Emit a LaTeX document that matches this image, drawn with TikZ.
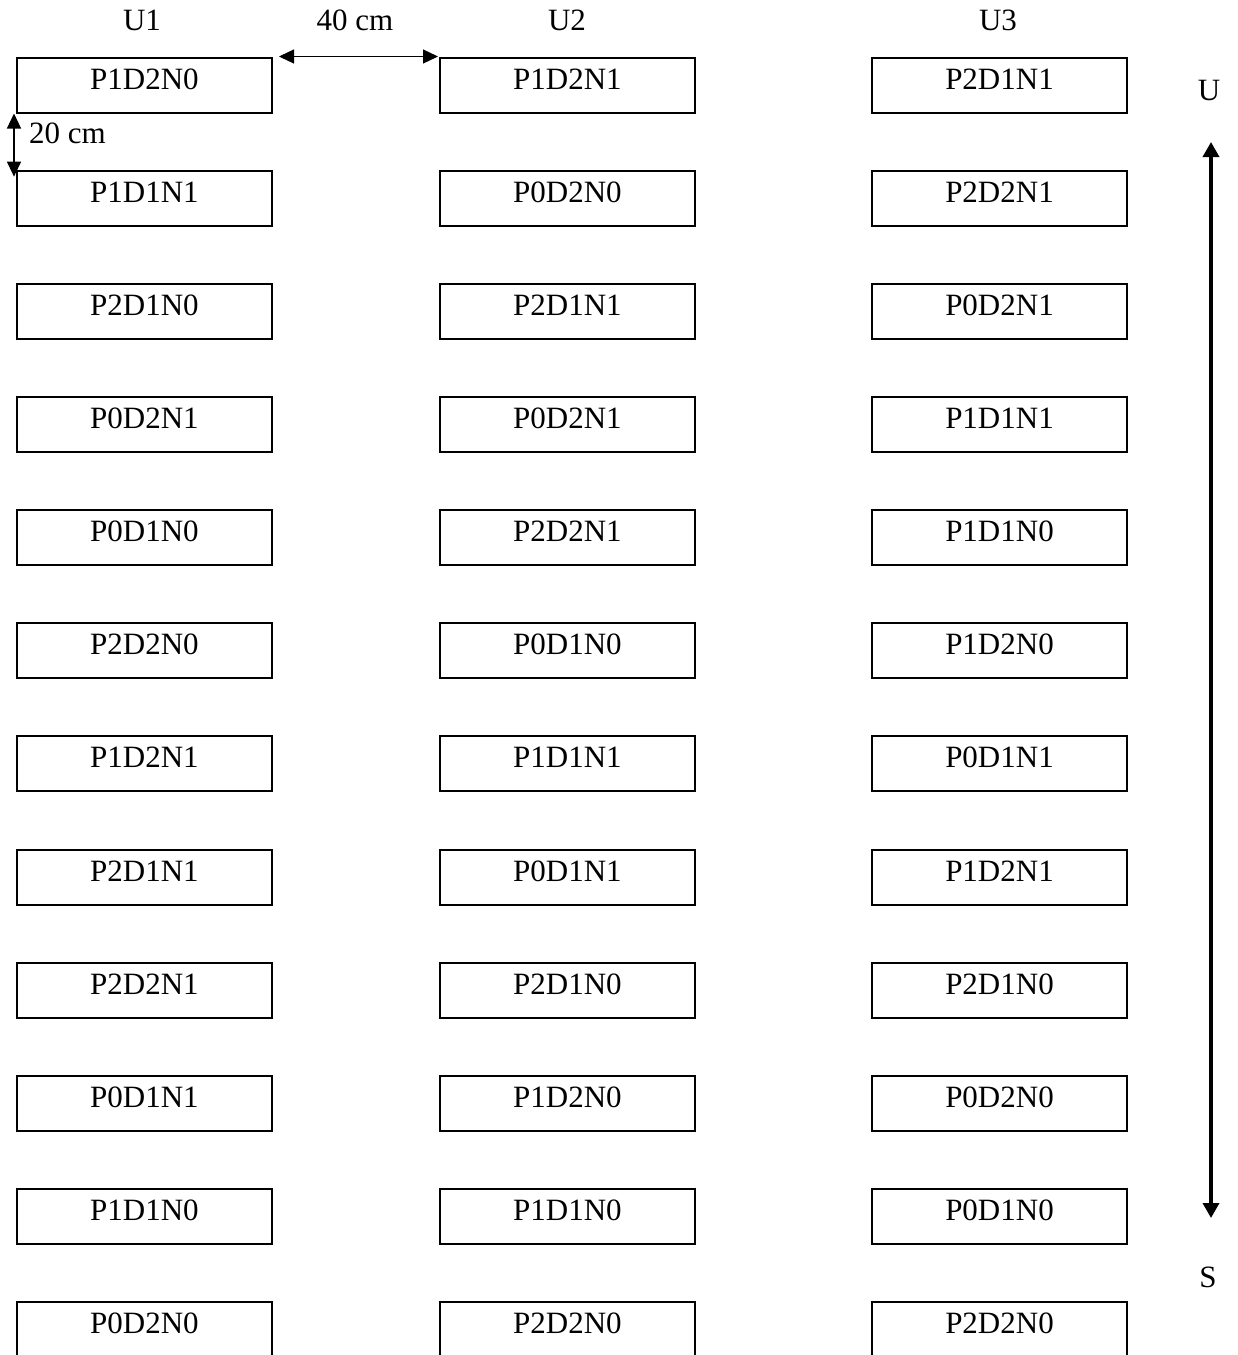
\documentclass[tikz,border=0pt]{standalone}
\usepackage{fontspec}
\setmainfont{Liberation Serif}
\usetikzlibrary{arrows.meta}
\begin{document}
\begin{tikzpicture}[x=1pt,y=-1pt,
  cell/.style={draw=black, line width=2pt, rectangle, inner sep=0pt,
    minimum width=255pt, text height=31.5pt, text depth=23.5pt,
    font=\fontsize{31}{37}\selectfont},
  lbl/.style={anchor=base, inner sep=0pt, font=\fontsize{31}{37}\selectfont},
  dim/.style={line width=1.2pt, {Triangle[length=15pt,width=14pt]}-{Triangle[length=15pt,width=14pt]}},
  bigarrow/.style={line width=3.5pt, {Triangle[length=15pt,width=16pt]}-{Triangle[length=15pt,width=16pt]}}
]
\useasboundingbox (0,0) rectangle (1238,1355);
\clip (0,0) rectangle (1238,1355);
\def\colA{P1D2N0,P1D1N1,P2D1N0,P0D2N1,P0D1N0,P2D2N0,P1D2N1,P2D1N1,P2D2N1,P0D1N1,P1D1N0,P0D2N0}
\def\colB{P1D2N1,P0D2N0,P2D1N1,P0D2N1,P2D2N1,P0D1N0,P1D1N1,P0D1N1,P2D1N0,P1D2N0,P1D1N0,P2D2N0}
\def\colC{P2D1N1,P2D2N1,P0D2N1,P1D1N1,P1D1N0,P1D2N0,P0D1N1,P1D2N1,P2D1N0,P0D2N0,P0D1N0,P2D2N0}
\foreach \t [count=\i] in \colA {
  \node[cell, anchor=north west] (a\i) at (16, {56.5+113.15*(\i-1)}) {\t};
}
\foreach \t [count=\i] in \colB {
  \node[cell, anchor=north west] (b\i) at (439, {56.5+113.15*(\i-1)}) {\t};
}
\foreach \t [count=\i] in \colC {
  \node[cell, anchor=north west] (c\i) at (871, {56.5+113.15*(\i-1)}) {\t};
}
% column headers
\node[lbl] (u1) at (142, 30) {U1};
\node[lbl] (u2) at (567, 30) {U2};
\node[lbl] (u3) at (998, 30) {U3};
\node[lbl] (d40) at (355, 30) {40 cm};
% 40 cm arrow
\coordinate (h1) at ([xshift=6pt]a1.north east);
\coordinate (h2) at ([xshift=-1pt]b1.north west);
\draw[dim] (h1) -- (h2);
% 20 cm arrow
\coordinate (v1) at ([xshift=-2pt]a1.south west);
\coordinate (v2) at ([xshift=-2pt,yshift=-7pt]a2.north west);
\draw[dim] (v1) -- (v2);
\node[lbl, anchor=base west] (d20) at (29, 143) {20 cm};
% right arrow
\node[lbl] (uu) at (1209, 100) {U};
\node[lbl] (ss) at (1208, 1287) {S};
\coordinate (ta) at (1211, 142);
\coordinate (tb) at (1211, 1218);
\draw[bigarrow] (tb) -- (ta);
\end{tikzpicture}
\end{document}
